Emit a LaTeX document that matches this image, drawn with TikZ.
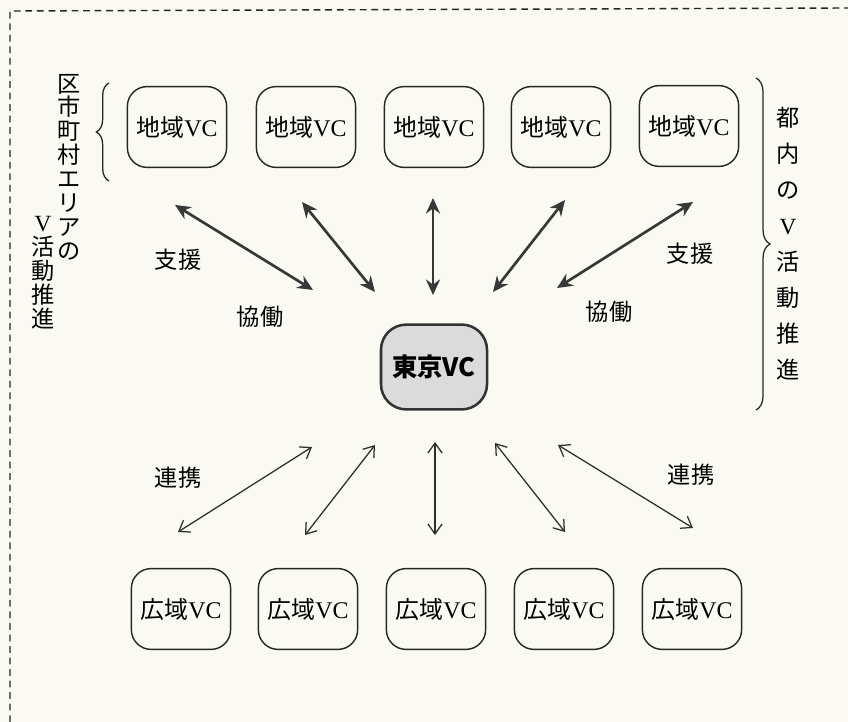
\documentclass[tikz,border=0pt]{standalone}
\usepackage{fontspec}
\newfontfamily\jpfont{Noto Sans CJK JP}
\newfontfamily\latfont{Liberation Serif}
\usetikzlibrary{arrows.meta, decorations.pathreplacing}

\definecolor{paper}{RGB}{250,250,242}
\newcommand{\vcname}[1]{#1{\latfont VC}}
\tikzset{
  vcbox/.style={draw=black!85, line width=1pt, rounded corners=14pt, minimum width=2.48cm, minimum height=2.02cm, inner sep=0pt, font=\jpfont\fontsize{17}{19}\selectfont},
  hubbox/.style={draw=black!80, line width=1.8pt, fill=black!14, rounded corners=18pt, minimum width=2.65cm, minimum height=2.12cm, inner sep=0pt, font=\jpfont\bfseries\fontsize{18}{20}\selectfont},
  duo/.style={draw=black!78, line width=1.9pt, {Stealth[length=11pt,width=10pt]}-{Stealth[length=11pt,width=10pt]}},
  link/.style={draw=black!82, line width=0.9pt, {Straight Barb[length=7pt,width=10pt]}-{Straight Barb[length=7pt,width=10pt]}},
  tag/.style={font=\jpfont\fontsize{16.5}{18}\selectfont, inner sep=0pt},
  side/.style={align=center, inner sep=0pt},
  bracket/.style={draw=black!85, line width=0.9pt, decorate, decoration={brace, amplitude=#1}},
}

\begin{document}
\begin{tikzpicture}[x=0.025cm, y=-0.025cm]
            \useasboundingbox[fill=paper] (0,0) rectangle (848,722);
            \draw[black!85, line width=1pt, dash pattern=on 4.8pt off 3.4pt] (10,722) -- (10,11) -- (848,8);

            % top row
            \node[vcbox] (t1) at (177,127) {\vcname{地域}};
            \node[vcbox] (t2) at (306,127) {\vcname{地域}};
            \node[vcbox] (t3) at (434,127) {\vcname{地域}};
            \node[vcbox] (t4) at (561,127) {\vcname{地域}};
            \node[vcbox] (t5) at (689,126) {\vcname{地域}};

            % bottom row
            \node[vcbox] (w1) at (181,609) {\vcname{広域}};
            \node[vcbox] (w2) at (308,609) {\vcname{広域}};
            \node[vcbox] (w3) at (436,609) {\vcname{広域}};
            \node[vcbox] (w4) at (564,609) {\vcname{広域}};
            \node[vcbox] (w5) at (692,609) {\vcname{広域}};

            \node[hubbox] (hub) at (434,367) {東京VC};

            % arrow ends
            \coordinate (A1) at (175,205);
            \coordinate (B1) at (313,290);
            \coordinate (A2) at (302,202);
            \coordinate (B2) at (375,292);
            \coordinate (A3) at (433,198);
            \coordinate (B3) at (433,295);
            \coordinate (A4) at (565,200);
            \coordinate (B4) at (493,292);
            \coordinate (A5) at (693,202);
            \coordinate (B5) at (557,288);
            \coordinate (C1) at (312,447);
            \coordinate (D1) at (178,532);
            \coordinate (C2) at (375,445);
            \coordinate (D2) at (305,535);
            \coordinate (C3) at (435,442);
            \coordinate (D3) at (435,535);
            \coordinate (C4) at (495,443);
            \coordinate (D4) at (565,532);
            \coordinate (C5) at (558,445);
            \coordinate (D5) at (693,528);

            \draw[duo] (A1) -- (B1);
            \draw[duo] (A2) -- (B2);
            \draw[duo] (A3) -- (B3);
            \draw[duo] (A4) -- (B4);
            \draw[duo] (A5) -- (B5);
            \draw[link] (C1) -- (D1);
            \draw[link] (C2) -- (D2);
            \draw[link] (C3) -- (D3);
            \draw[link] (C4) -- (D4);
            \draw[link] (C5) -- (D5);

            \node[tag] (sl) at (178,260) {支援};
            \node[tag] (kl) at (260,317) {協働};
            \node[tag] (sr) at (690,254) {支援};
            \node[tag] (kr) at (609,312) {協働};
            \node[tag] (rl) at (178,478) {連携};
            \node[tag] (rr) at (691,475) {連携};

            % side notes
            \node[side, font=\jpfont\fontsize{16.5}{17}\selectfont] (ku) at (69,167) {区\\市\\町\\村\\エ\\リ\\ア\\の};
            \node[side, font=\jpfont\fontsize{16.5}{17}\selectfont] (kv) at (43,273) {{\latfont V}\\活\\動\\推\\進};
            \node[side, font=\jpfont\fontsize{16.5}{25.6}\selectfont] (to) at (788,244) {都\\内\\の\\{\latfont V}\\活\\動\\推\\進};
            \draw[bracket=9pt] (109,181) -- (109,83);
            \draw[bracket=10pt] (756,78) -- (756,410);
        \end{tikzpicture}
\end{document}
